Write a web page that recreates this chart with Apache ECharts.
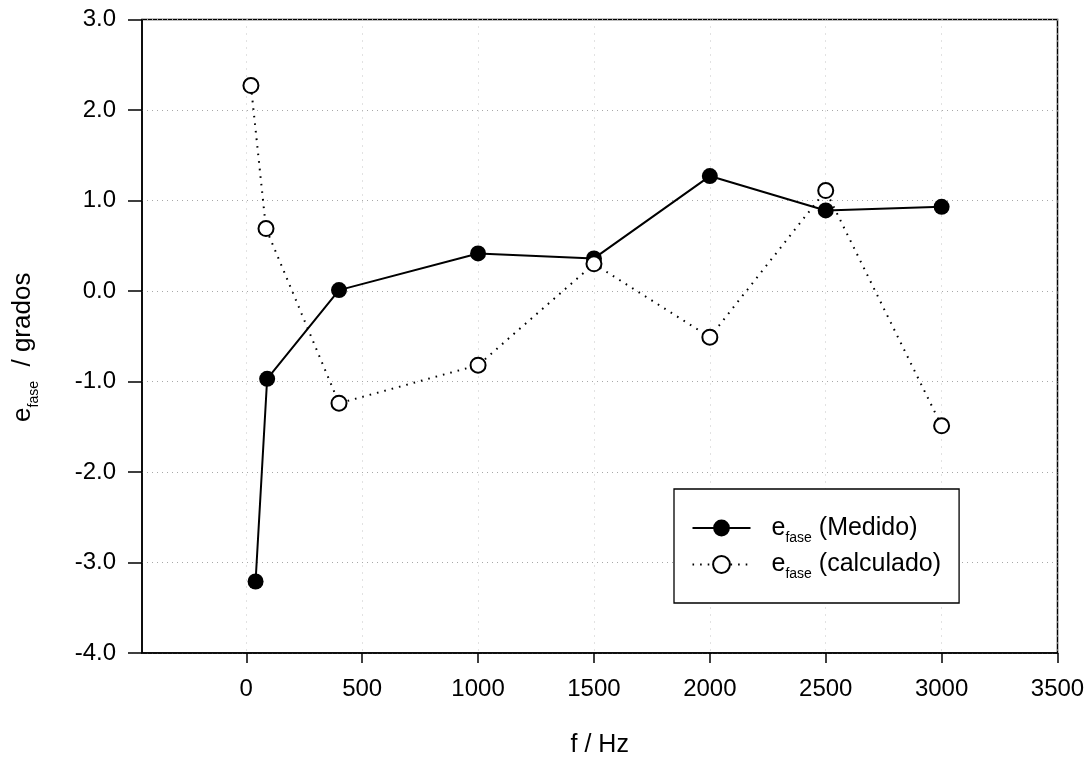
<!DOCTYPE html>
<html>
<head>
<meta charset="utf-8">
<script src="https://cdn.jsdelivr.net/npm/echarts@6/dist/echarts.min.js"></script>
<style>
  html, body { margin: 0; padding: 0; background: #fff; }
  #chart { width: 1092px; height: 760px; }
</style>
</head>
<body>
<div id="chart"></div>
<script>
// Phase error versus frequency: measured and calculated values
const freqMedido = [40, 90, 400, 1000, 1500, 2000, 2500, 3000];
const efaseMedido = [-3.21, -0.97, 0.01, 0.415, 0.36, 1.27, 0.89, 0.93];

const freqCalculado = [20, 85, 400, 1000, 1500, 2000, 2500, 3000];
const efaseCalculado = [2.27, 0.69, -1.24, -0.82, 0.30, -0.51, 1.11, -1.49];

const xTicks = [0, 500, 1000, 1500, 2000, 2500, 3000, 3500];
const yTicks = [-4, -3, -2, -1, 0, 1, 2, 3];

const FONT = "'Liberation Sans', Arial, Helvetica, sans-serif";

const pairs = (xs, ys) => xs.map((x, i) => [x, ys[i]]);

// rich text styles for "e" with the subscript "fase"
const nameRich = {
  e: { fontSize: 26, lineHeight: 36, fontFamily: FONT, color: '#000' },
  s: { fontSize: 14, lineHeight: 14, verticalAlign: 'bottom', fontFamily: FONT, color: '#000' },
  t: { fontSize: 26, lineHeight: 36, fontFamily: FONT, color: '#000', padding: [0, 22, 0, 0] }
};

const legendRich = {
  e: { fontSize: 25, lineHeight: 34, fontFamily: FONT, color: '#000', padding: [0, 0, 0, 16] },
  s: { fontSize: 14, lineHeight: 14, verticalAlign: 'bottom', fontFamily: FONT, color: '#000' },
  t: { fontSize: 25, lineHeight: 34, fontFamily: FONT, color: '#000' }
};

const chart = echarts.init(document.getElementById('chart'), null, { renderer: 'canvas' });

chart.setOption({
  animation: false,
  backgroundColor: '#fff',
  textStyle: { fontFamily: FONT, color: '#000' },
  grid: {
    left: 142, right: 34.5, top: 19.5, bottom: 107,
    outerBoundsMode: 'none',
    containLabel: false,
    show: true, borderColor: '#000', borderWidth: 1.5, backgroundColor: 'transparent'
  },
  legend: {
    orient: 'vertical',
    left: 674, top: 489,
    padding: [26.5, 18, 21.5, 17.5],
    itemGap: 7,
    itemWidth: 58, itemHeight: 21,
    borderColor: '#000', borderWidth: 1.3,
    backgroundColor: '#fff',
    formatter: name => '{e|e}{s|fase}{t| (' + name + ')}',
    textStyle: { rich: legendRich },
    data: ['Medido', 'calculado']
  },
  xAxis: {
    type: 'value',
    min: -450, max: 3500,
    name: 'f / Hz',
    nameLocation: 'middle',
    nameGap: 80,
    nameTextStyle: { fontSize: 25, fontFamily: FONT, color: '#000' },
    axisLine: { show: true, onZero: false, lineStyle: { color: '#000', width: 1.5 } },
    axisTick: { show: true, inside: false, length: 10, customValues: xTicks, lineStyle: { color: '#000', width: 1.5 } },
    axisLabel: {
      customValues: xTicks, margin: 24, fontSize: 24, fontFamily: FONT, color: '#000',
      formatter: v => String(v)
    },
    splitLine: { show: true, lineStyle: { color: '#c4c4c4', width: 1, type: [1, 6] } }
  },
  yAxis: {
    type: 'value',
    min: -4, max: 3, interval: 1,
    name: '{e|e}{s|fase}{t|  / grados}',
    nameLocation: 'middle',
    nameRotate: 90,
    nameGap: 101,
    nameTextStyle: { rich: nameRich },
    axisLine: { show: true, onZero: false, lineStyle: { color: '#000', width: 1.5 } },
    axisTick: { show: true, inside: false, length: 14, lineStyle: { color: '#000', width: 1.5 } },
    axisLabel: {
      margin: 26, fontSize: 24, fontFamily: FONT, color: '#000',
      formatter: v => (yTicks.includes(v) ? v.toFixed(1) : '')
    },
    splitLine: { show: true, lineStyle: { color: '#a8a8a8', width: 1, type: [1, 4] } }
  },
  series: [
    {
      name: 'Medido',
      type: 'line',
      data: pairs(freqMedido, efaseMedido),
      symbol: 'circle',
      symbolSize: 16,
      itemStyle: { color: '#000' },
      lineStyle: { color: '#000', width: 2 },
      z: 3
    },
    {
      name: 'calculado',
      type: 'line',
      data: pairs(freqCalculado, efaseCalculado),
      symbol: 'circle',
      symbolSize: 15,
      itemStyle: { color: '#fff', borderColor: '#000', borderWidth: 2 },
      lineStyle: { color: '#000', width: 2, type: [1.6, 6] },
      z: 4
    }
  ]
});
</script>
</body>
</html>
